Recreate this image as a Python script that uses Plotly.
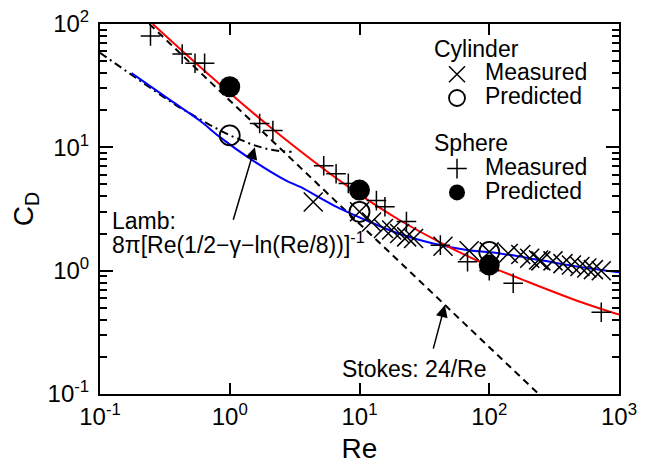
import plotly.graph_objects as go
import math

# ---------------- data ----------------
stokes_re = [0.24, 240]
stokes_cd = [100, 0.1]

lamb_re = [0.1, 0.15, 0.2, 0.3, 0.4, 0.5, 0.7, 1.0, 1.2, 1.5, 2.0, 2.5, 3.0]
lamb_cd = [58.4, 43.5, 34.8, 26.1, 21.4, 18.6, 15.2, 12.5, 11.5, 10.5, 9.6, 9.3, 9.2]

cyl_fit_re = [0.175, 0.35, 0.6, 0.84, 1.5, 2.7, 3.5, 6.3, 11.3, 20, 37, 67, 121, 244, 500, 1000]
cyl_fit_cd = [40, 24, 16.2, 12.1, 7.85, 5.4, 4.77, 3.39, 2.56, 2.0, 1.66, 1.47, 1.38, 1.22, 1.07, 0.97]

sph_fit_re = [0.255, 0.5, 1, 2, 5, 10, 20, 50, 100, 200, 500, 1000]
sph_fit_cd = [100, 52.5, 27.6, 14.9, 7.0, 4.15, 2.6, 1.54, 1.09, 0.81, 0.56, 0.44]

cyl_meas_re = [4.4, 10, 12.4, 15.3, 17.7, 20.4, 23.1, 26.1, 44, 70, 100, 140, 175, 205, 240,
               250, 310, 370, 430, 500, 565, 635, 730]
cyl_meas_cd = [3.6, 3.0, 2.48, 2.2, 2.14, 2.0, 1.88, 1.82, 1.58, 1.45, 1.42, 1.38, 1.35, 1.26, 1.22,
               1.2, 1.2, 1.14, 1.11, 1.08, 1.05, 1.02, 1.0]

cyl_pred_re = [1, 10, 100]
cyl_pred_cd = [12.5, 3.0, 1.42]

sph_meas_re = [0.245, 0.43, 0.54, 0.64, 1.7, 2.15, 5.3, 6.6, 8.2, 13.5, 15.7, 23, 42, 68, 100, 153, 730]
sph_meas_cd = [80, 57, 48, 48, 15.6, 13.7, 7.1, 6.1, 5.1, 3.7, 3.3, 2.5, 1.61, 1.18, 1.0, 0.79, 0.46]

sph_pred_re = [1, 10, 100]
sph_pred_cd = [31, 4.5, 1.11]

tick_vals = [0.1, 1, 10, 100, 1000]
x_tick_text = ["10<sup>-1</sup>", "10<sup>0</sup>", "10<sup>1</sup>", "10<sup>2</sup>", "10<sup>3</sup>"]
y_tick_vals = [0.1, 1, 10, 100]
y_tick_text = ["10<sup>-1</sup>", "10<sup>0</sup>", "10<sup>1</sup>", "10<sup>2</sup>"]

FONT = "Liberation Sans, Arial, Helvetica, sans-serif"
TXT = 23


def big(s):
    return '<span style="font-size:%dpx">%s</span>' % (TXT, s)


fig = go.Figure()

fig.add_trace(go.Scatter(x=stokes_re, y=stokes_cd, mode="lines", showlegend=False,
                         line=dict(color="black", width=2, dash="7px,5px")))
fig.add_trace(go.Scatter(x=lamb_re, y=lamb_cd, mode="lines", showlegend=False,
                         line=dict(color="black", width=2, dash="8px,4px,2px,4px")))
fig.add_trace(go.Scatter(x=cyl_fit_re, y=cyl_fit_cd, mode="lines", showlegend=False,
                         line=dict(color="#0000ff", width=2, shape="spline")))
fig.add_trace(go.Scatter(x=sph_fit_re, y=sph_fit_cd, mode="lines", showlegend=False,
                         line=dict(color="#ff0000", width=2, shape="spline")))

fig.add_trace(go.Scatter(x=cyl_meas_re, y=cyl_meas_cd, mode="markers", name=big("Measured"),
                         legendgroup="cyl", legendgrouptitle_text=big("Cylinder"),
                         marker=dict(symbol="x-thin-open", size=19, color="black",
                                     line=dict(color="black", width=1.5))))
fig.add_trace(go.Scatter(x=cyl_pred_re, y=cyl_pred_cd, mode="markers", name=big("Predicted"),
                         legendgroup="cyl",
                         marker=dict(symbol="circle-open", size=20, color="black",
                                     line=dict(color="black", width=1.8))))
fig.add_trace(go.Scatter(x=sph_meas_re, y=sph_meas_cd, mode="markers", name=big("Measured"),
                         legendgroup="sph", legendgrouptitle_text=big("Sphere"),
                         marker=dict(symbol="cross-thin-open", size=14, color="black",
                                     line=dict(color="black", width=1.5))))
fig.add_trace(go.Scatter(x=sph_pred_re, y=sph_pred_cd, mode="markers", name=big("Predicted"),
                         legendgroup="sph",
                         marker=dict(symbol="circle", size=21, color="black")))

# the page body has an 8px margin: lay the figure out so the plot lands where the reference has it
OFF = 8
W, H = 661 - OFF, 464 - OFF
L, T = 100 - OFF, 23.5 - OFF
pw, ph = 519, 370.5
R, B = W - L - pw, H - T - ph


def px(xp):
    return (xp - 100) / pw


def py(yp):
    return (394 - yp) / ph


axis_common = dict(type="log", showline=True, linecolor="black", linewidth=2, mirror="ticks",
                   ticks="inside", tickcolor="black", tickwidth=1.5, showgrid=False, zeroline=False,
                   automargin=False, ticklabeloverflow="allow",
                   tickfont=dict(size=24, color="black", family=FONT))

fig.update_xaxes(range=[-1, 3], ticklen=11, tickvals=tick_vals, ticktext=x_tick_text,
                 title=dict(text="Re", font=dict(size=28, family=FONT, color="black"), standoff=10),
                 **axis_common)
fig.update_yaxes(range=[-1, 2], ticklen=13, tickvals=y_tick_vals, ticktext=y_tick_text,
                 ticklabelstandoff=4,
                 minor=dict(ticks="inside", ticklen=7, dtick="D1", tickcolor="black", tickwidth=1.5,
                            showgrid=False),
                 title=dict(text="C<sub>D</sub>", font=dict(size=28, family=FONT, color="black"), standoff=15),
                 **axis_common)

annotations = [
    dict(xref="paper", yref="paper", x=px(110), y=py(221), xanchor="left", yanchor="middle",
         text="Lamb:", showarrow=False, font=dict(size=TXT, family=FONT, color="black")),
    dict(xref="paper", yref="paper", x=px(110), y=py(243), xanchor="left", yanchor="middle",
         text="8π[Re(1/2−γ−ln(Re/8))]<sup>-1</sup>", showarrow=False,
         font=dict(size=TXT, family=FONT, color="black")),
    dict(xref="paper", yref="paper", x=px(340), y=py(369), xanchor="left", yanchor="middle",
         text="Stokes: 24/Re", showarrow=False, font=dict(size=TXT, family=FONT, color="black")),
    dict(x=math.log10(1.56), y=1.0, text="", showarrow=True, ax=-22, ay=74,
         arrowhead=2, arrowsize=1.6, arrowwidth=1.5, arrowcolor="black"),
    dict(x=math.log10(45.5), y=math.log10(0.526), text="", showarrow=True, ax=-12, ay=45,
         arrowhead=2, arrowsize=1.6, arrowwidth=1.5, arrowcolor="black"),
]

fig.update_layout(
    width=W, height=H,
    margin=dict(l=L, r=R, t=T, b=B, autoexpand=False),
    paper_bgcolor="white", plot_bgcolor="white",
    font=dict(family=FONT, color="black"),
    annotations=annotations,
    legend=dict(x=px(429), y=py(33), xanchor="left", yanchor="top",
                bgcolor="rgba(0,0,0,0)", font=dict(size=16, family=FONT, color="black"),
                grouptitlefont=dict(size=16, family=FONT, color="black"),
                tracegroupgap=23, itemwidth=46),
)

fig.write_html("out.html")
